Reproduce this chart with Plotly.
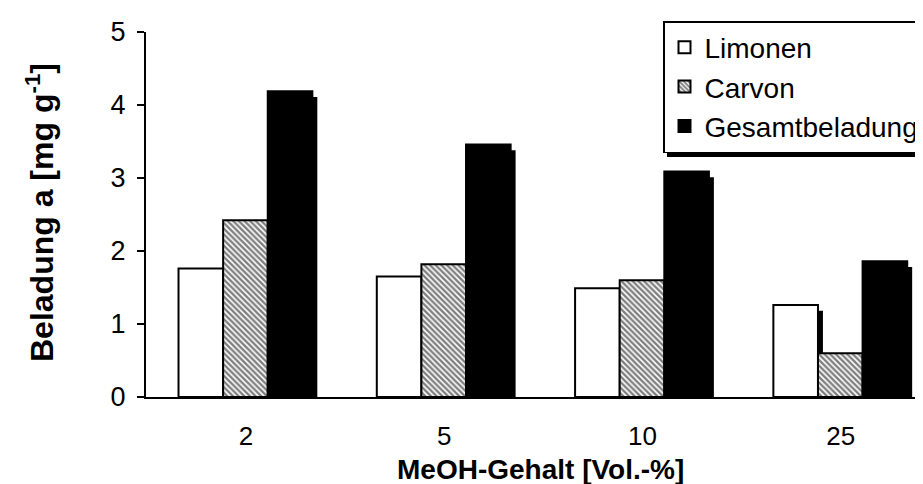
import plotly.graph_objects as go

# data
categories = ["2", "5", "10", "25"]
limonen = [1.76, 1.65, 1.49, 1.26]
carvon = [2.42, 1.82, 1.60, 0.60]
gesamt = [4.19, 3.46, 3.09, 1.86]

FONT = "Arial, Liberation Sans, sans-serif"
W = 0.225          # bar width in category units
SH_X = 0.025       # shadow shift right (category units)
SH_Y = 0.08        # shadow shift down (data units)

series = [
    ("Limonen", limonen, -0.34, dict(color="white", line=dict(color="black", width=2))),
    ("Carvon", carvon, -0.115, dict(color="white", line=dict(color="black", width=2),
                                    pattern=dict(shape="\\", fgcolor="black", bgcolor="white",
                                                 size=4, solidity=0.6))),
    ("Gesamtbeladung", gesamt, 0.11, dict(color="black", line=dict(color="black", width=2))),
]

fig = go.Figure()

# shadows first, so the bars sit on top of them
for name, vals, off, _ in series:
    fig.add_trace(go.Bar(x=categories, y=[v - SH_Y for v in vals], offset=off + SH_X, width=W,
                         marker=dict(color="black", line=dict(width=0)),
                         showlegend=False, hoverinfo="skip"))

for name, vals, off, marker in series:
    fig.add_trace(go.Bar(name=name, x=categories, y=vals, offset=off, width=W, marker=marker))

# legend shadow (legend box covers all of it but a strip along the bottom)
fig.add_shape(type="rect", xref="paper", yref="paper", layer="above",
              x0=(659 - 138) / 785, x1=1.05, y0=(389 - 149) / 365, y1=(389 - 20) / 365,
              fillcolor="black", line=dict(width=0))

fig.add_annotation(text="<b>Beladung a [mg g<sup>-1</sup>]</b>", xref="paper", yref="paper",
                   x=0, y=(389 - 205) / 365, xshift=-106, textangle=-90, showarrow=False,
                   xanchor="center", yanchor="middle", font=dict(family=FONT, size=32, color="black"))
fig.add_annotation(text="<b>MeOH-Gehalt [Vol.-%]</b>", xref="paper", yref="paper",
                   x=(532 - 138) / 785, y=0, yshift=-72, showarrow=False,
                   xanchor="center", yanchor="middle", font=dict(family=FONT, size=28, color="black"))

fig.update_xaxes(range=[-0.504, 3.455], showline=True, linecolor="black", linewidth=2,
                 ticks="", showgrid=False, ticklabelstandoff=15,
                 tickfont=dict(family=FONT, size=26, color="black"))
fig.update_yaxes(range=[0, 5], dtick=1, showline=True, linecolor="black", linewidth=2,
                 ticks="outside", ticklen=7, tickwidth=2, tickcolor="black", showgrid=False,
                 zeroline=False, ticklabelstandoff=6,
                 tickfont=dict(family=FONT, size=27, color="black"))

fig.update_layout(width=923, height=484, barmode="overlay",
                  margin=dict(l=138, r=0, t=24, b=95, autoexpand=False),
                  plot_bgcolor="white", paper_bgcolor="white",
                  font=dict(family=FONT, color="black"),
                  legend=dict(x=(655 - 138) / 785, y=(389 - 13) / 365,
                              xanchor="left", yanchor="top", bgcolor="white",
                              bordercolor="black", borderwidth=1.5,
                              font=dict(family=FONT, size=28, color="black")))

fig.write_html("out.html")
